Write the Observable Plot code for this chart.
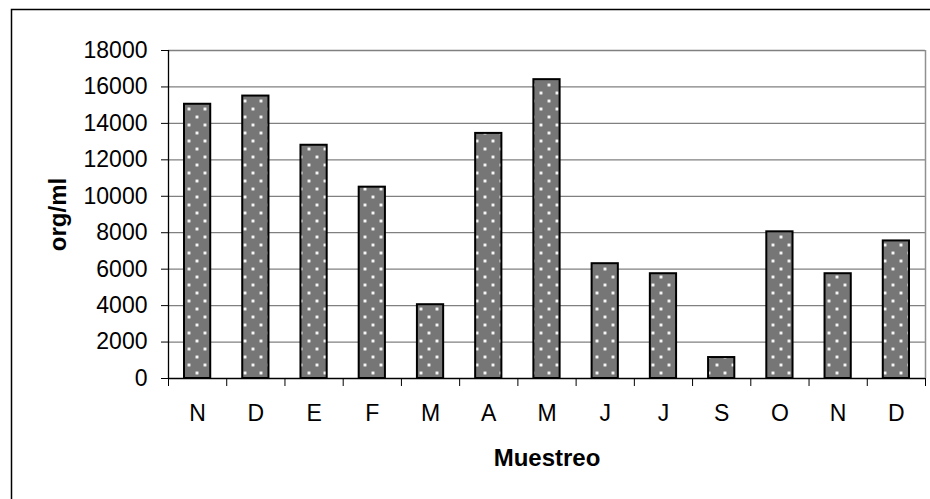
<!DOCTYPE html>
<html>
<head>
<meta charset="utf-8">
<script src="https://cdn.jsdelivr.net/npm/d3@7"></script>
<script src="https://cdn.jsdelivr.net/npm/@observablehq/plot@0.6"></script>
<style>
  html, body { margin: 0; padding: 0; background: #fff; }
  #chart { width: 930px; height: 499px; }
</style>
</head>
<body>
<div id="chart"></div>
<script>
// Monthly sampling campaign (Nov → Dec of the following year)
const months = ["N", "D", "E", "F", "M", "A", "M", "J", "J", "S", "O", "N", "D"];
// Organism density per sample (org/ml)
const counts = [15050, 15500, 12800, 10500, 4050, 13450, 16400, 6300, 5750, 1150, 8050, 5750, 7550];
const yTicks = [0, 2000, 4000, 6000, 8000, 10000, 12000, 14000, 16000, 18000];
const xTitle = "Muestreo";
const yTitle = "org/ml";

const rows = months.map((m, i) => ({i, m, v: counts[i]}));
const n = months.length;
const barInset = 16;
const yMax = yTicks[yTicks.length - 1];

const chart = Plot.plot({
  width: 930,
  height: 499,
  marginLeft: 168,
  marginRight: 5,
  marginTop: 50,
  marginBottom: 121,
  style: {fontFamily: "'Liberation Sans', Arial, sans-serif", color: "#000", background: "#fff"},
  x: {domain: [0, n], axis: null},
  y: {domain: [0, yMax], axis: null},
  marks: [
    // horizontal gridlines
    Plot.ruleY(yTicks.filter(t => t > 0), {stroke: "#808080", strokeWidth: 1.3}),
    // right edge of plot area
    Plot.ruleX([n], {y1: 0, y2: yMax, stroke: "#909090", strokeWidth: 1.5}),
    // bars: checkered base then dotted overlay with outline
    Plot.rect(rows, {x1: "i", x2: d => d.i + 1, y1: 0, y2: "v", insetLeft: barInset, insetRight: barInset, fill: "url(#chk)"}),
    Plot.rect(rows, {x1: "i", x2: d => d.i + 1, y1: 0, y2: "v", insetLeft: barInset, insetRight: barInset, fill: "url(#dots)", stroke: "#000", strokeWidth: 2}),
    // axis lines
    Plot.ruleY([0], {stroke: "#000", strokeWidth: 1.3}),
    Plot.ruleX([0], {y1: 0, y2: yMax, stroke: "#000", strokeWidth: 1.3}),
    Plot.axisY(yTicks, {tickSize: 7, tickPadding: 14, fontSize: 23, label: null, stroke: "#000",
      tickFormat: d => String(d)}),
    // category boundary ticks
    Plot.axisX(d3.range(n + 1), {tickSize: 8, tickFormat: () => "", label: null, stroke: "#000"}),
    // category labels
    Plot.axisX(rows.map(d => d.i + 0.5), {tickSize: 0, tickPadding: 26, fontSize: 23, label: null,
      tickFormat: t => months[Math.floor(t)]}),
    // axis titles
    Plot.text([yTitle], {frameAnchor: "left", dx: -110, rotate: -90, textAnchor: "middle", lineAnchor: "middle",
      fontWeight: "bold", fontSize: 24}),
    Plot.text([xTitle], {frameAnchor: "bottom", dy: 80, textAnchor: "middle", lineAnchor: "middle",
      fontWeight: "bold", fontSize: 24})
  ]
});

// Fill patterns for the bars
const svg = d3.select(chart);
const defs = svg.insert("defs", ":first-child");
const chk = defs.append("pattern").attr("id", "chk").attr("patternUnits", "userSpaceOnUse")
  .attr("x", 0.5).attr("y", 0.5).attr("width", 2).attr("height", 2);
chk.append("rect").attr("width", 2).attr("height", 2).attr("fill", "#b4b4b4");
chk.append("rect").attr("width", 1).attr("height", 1).attr("fill", "#383838");
chk.append("rect").attr("x", 1).attr("y", 1).attr("width", 1).attr("height", 1).attr("fill", "#383838");
const dots = defs.append("pattern").attr("id", "dots").attr("patternUnits", "userSpaceOnUse")
  .attr("x", 0.5).attr("y", 0.5).attr("width", 16).attr("height", 16);
for (const [cx, cy] of [[4, 4], [12, 12]]) {
  dots.append("rect").attr("x", cx - 1).attr("y", cy - 1).attr("width", 3).attr("height", 3).attr("fill", "#d8d8d8");
  dots.append("rect").attr("x", cx - 1).attr("y", cy).attr("width", 3).attr("height", 1).attr("fill", "#fff");
  dots.append("rect").attr("x", cx).attr("y", cy - 1).attr("width", 1).attr("height", 3).attr("fill", "#fff");
}

// Chart frame
svg.append("rect").attr("x", 11.5).attr("y", 9.5).attr("width", 940).attr("height", 510)
  .attr("fill", "none").attr("stroke", "#000").attr("stroke-width", 1.5);

document.getElementById("chart").appendChild(chart);
</script>
</body>
</html>
